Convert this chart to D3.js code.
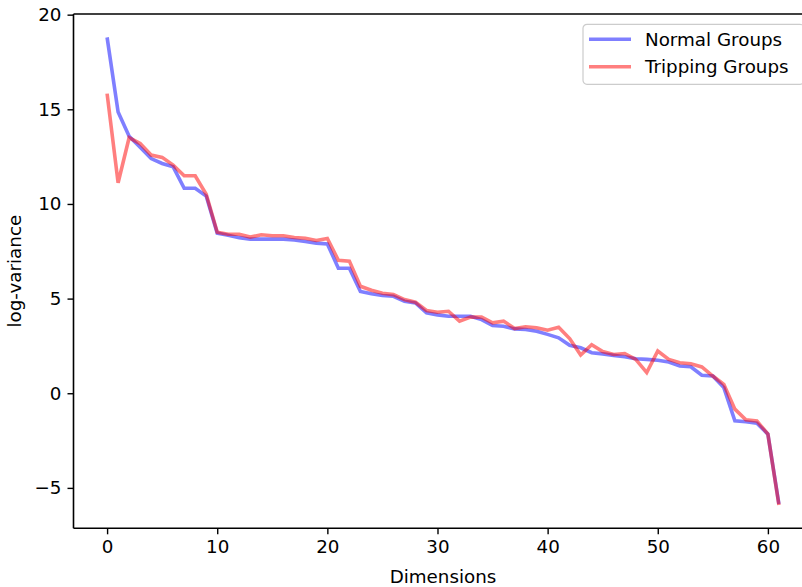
<!DOCTYPE html>
<html>
<head>
<meta charset="utf-8">
<script src="https://cdn.jsdelivr.net/npm/d3@7"></script>
<style>
  body { margin: 0; background: #fff; }
  svg { display: block; font-family: "DejaVu Sans", sans-serif; }
</style>
</head>
<body>
<div class="chart"></div>
<script>
// series values
const normalGroups = [18.8, 14.86, 13.58, 13.0, 12.4, 12.14, 11.96, 10.83, 10.83, 10.42,
  8.46, 8.35, 8.22, 8.14, 8.14, 8.14, 8.14, 8.1, 8.02, 7.93,
  7.89, 6.61, 6.6, 5.38, 5.26, 5.16, 5.12, 4.86, 4.77, 4.25,
  4.14, 4.07, 4.07, 4.07, 3.89, 3.58, 3.54, 3.4, 3.37, 3.28,
  3.11, 2.93, 2.53, 2.4, 2.14, 2.08, 2.0, 1.93, 1.82, 1.79,
  1.74, 1.65, 1.44, 1.4, 0.95, 0.91, 0.3, -1.46, -1.51, -1.58,
  -2.16, -5.85]
const trippingGroups = [15.83, 11.12, 13.5, 13.19, 12.58, 12.46, 12.05, 11.49, 11.49, 10.51,
  8.51, 8.4, 8.4, 8.25, 8.37, 8.32, 8.32, 8.23, 8.19, 8.07,
  8.18, 7.02, 6.98, 5.65, 5.44, 5.28, 5.21, 4.95, 4.81, 4.37,
  4.28, 4.33, 3.81, 4.02, 4.02, 3.72, 3.81, 3.42, 3.51, 3.46,
  3.33, 3.49, 2.89, 2.02, 2.56, 2.2, 2.05, 2.1, 1.79, 1.09,
  2.23, 1.79, 1.61, 1.56, 1.39, 0.91, 0.47, -0.84, -1.4, -1.46,
  -2.16, -5.9]
const seriesNames = ["Normal Groups", "Tripping Groups"]
const seriesColors = ["#0000ff", "#ff0000"]
const xTicks = [0, 10, 20, 30, 40, 50, 60]
const yTicks = [-5, 0, 5, 10, 15, 20]

const W = 802, H = 587
const margin = {top: 14, left: 73.5}
const width = 739
const height = 514.3
const fontSize = "18.3px"

const svg = d3.select(".chart").append("svg")
  .attr("width", W)
  .attr("height", H)
  .append("g")
  .attr("transform", "translate(" + margin.left + "," + margin.top + ")")

const series = [normalGroups, trippingGroups]
const n = normalGroups.length

// matplotlib style 5% padding
const allVals = normalGroups.concat(trippingGroups)
const yMin = d3.min(allVals), yMax = d3.max(allVals)
const xPad = (n - 1) * 0.05
const yPad = (yMax - yMin) * 0.05

const x = d3.scaleLinear()
  .domain([-xPad, n - 1 + xPad])
  .range([0, width])

const y = d3.scaleLinear()
  .domain([yMin - yPad, yMax + yPad])
  .range([height, 0])

const line = d3.line()
  .x((d, i) => x(i))
  .y(d => y(d))

series.forEach(function (s, k) {
  svg.append("path")
    .datum(s)
    .attr("fill", "none")
    .attr("stroke", seriesColors[k])
    .attr("stroke-opacity", 0.5)
    .attr("stroke-width", 3.6)
    .attr("stroke-linejoin", "miter")
    .attr("d", line)
})

// axes
const xAxis = d3.axisBottom(x).tickValues(xTicks).tickSize(6).tickPadding(6)
const yAxis = d3.axisLeft(y).tickValues(yTicks).tickSize(6).tickPadding(6)

const gx = svg.append("g")
  .attr("transform", "translate(0," + height + ")")
  .call(xAxis)
gx.select(".domain").remove()

const gy = svg.append("g").call(yAxis)
gy.select(".domain").remove()

svg.selectAll(".tick line").attr("stroke", "#000").attr("stroke-width", 1.4)
svg.selectAll(".tick text")
  .attr("fill", "#000")
  .style("font-size", fontSize)
  .style("font-family", "DejaVu Sans")

// spines (right one falls outside the page)
svg.append("line").attr("x1", 0).attr("x2", 0).attr("y1", 0).attr("y2", height)
  .attr("stroke", "#000").attr("stroke-width", 1.6)
svg.append("line").attr("x1", 0).attr("x2", width).attr("y1", height).attr("y2", height)
  .attr("stroke", "#000").attr("stroke-width", 1.6)
svg.append("line").attr("x1", 0).attr("x2", width).attr("y1", 0).attr("y2", 0)
  .attr("stroke", "#000").attr("stroke-width", 1.6)
svg.append("line").attr("x1", width).attr("x2", width).attr("y1", 0).attr("y2", height)
  .attr("stroke", "#000").attr("stroke-width", 1.6)

// axis labels
svg.append("text")
  .attr("x", width / 2)
  .attr("y", height + 55)
  .attr("text-anchor", "middle")
  .style("font-size", fontSize)
  .text("Dimensions")

svg.append("text")
  .attr("transform", "translate(" + (-53) + "," + (height / 2) + ") rotate(-90)")
  .attr("text-anchor", "middle")
  .style("font-size", fontSize)
  .text("log-variance")

// legend
const legend = svg.append("g")
  .attr("transform", "translate(" + (583 - margin.left) + "," + (24.3 - margin.top) + ")")

legend.append("rect")
  .attr("width", 221)
  .attr("height", 60)
  .attr("rx", 4)
  .attr("fill", "#fff")
  .attr("fill-opacity", 0.8)
  .attr("stroke", "#cccccc")
  .attr("stroke-width", 1.2)

seriesNames.forEach(function (name, k) {
  const row = legend.append("g").attr("transform", "translate(0," + (15 + k * 27.5) + ")")
  row.append("line")
    .attr("x1", 6).attr("x2", 48)
    .attr("stroke", seriesColors[k])
    .attr("stroke-opacity", 0.5)
    .attr("stroke-width", 3.6)
  row.append("text")
    .attr("x", 62)
    .attr("dy", "0.35em")
    .style("font-size", fontSize)
    .text(name)
})
</script>
</body>
</html>
